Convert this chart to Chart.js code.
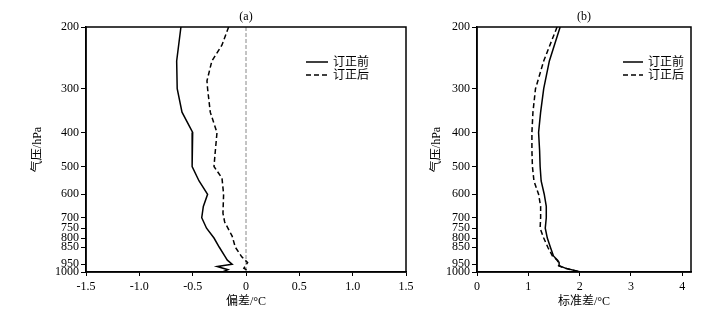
<!DOCTYPE html>
<html>
<head>
<meta charset="utf-8">
<script src="https://cdn.jsdelivr.net/npm/chart.js@4/dist/chart.umd.min.js"></script>
<style>
  body { margin: 0; background: #fff; width: 719px; height: 312px; overflow: hidden; position: relative; }
  .panel { position: absolute; top: 0; height: 312px; }
</style>
</head>
<body>
<div class="panel" style="left:0;width:420px"><canvas id="biasChart" width="420" height="312"></canvas></div>
<div class="panel" style="left:420px;width:299px"><canvas id="stdChart" width="299" height="312"></canvas></div>
<script>
// pressure axis ticks (hPa) and x ticks
const pressureTicks = [200, 300, 400, 500, 600, 700, 750, 800, 850, 950, 1000];
const biasTicks = [-1.5, -1, -0.5, 0, 0.5, 1, 1.5];
const stdTicks = [0, 1, 2, 3, 4];

// (a) bias, before correction
const biasBeforeP = [200, 250, 300, 350, 400, 500, 550, 600, 650, 700, 750, 800, 850, 900, 925, 950, 965, 985, 1000];
const biasBefore  = [-0.61, -0.65, -0.645, -0.60, -0.50, -0.505, -0.44, -0.36, -0.40, -0.415, -0.37, -0.30, -0.25, -0.20, -0.175, -0.13, -0.27, -0.17, -0.22];
// (a) bias, after correction
const biasAfterP = [200, 225, 250, 285, 300, 350, 400, 460, 500, 540, 600, 680, 720, 790, 850, 905, 940, 975, 1000];
const biasAfter  = [-0.163, -0.225, -0.32, -0.366, -0.36, -0.335, -0.272, -0.29, -0.30, -0.225, -0.21, -0.216, -0.20, -0.13, -0.10, -0.04, 0.015, -0.02, 0.04];
// zero reference line
const zeroLineP = [200, 1000];
const zeroLine  = [0, 0];

// (b) standard deviation
const stdP = [200, 250, 300, 350, 400, 450, 500, 550, 600, 650, 700, 750, 800, 850, 900, 925, 940, 960, 975, 1000];
const stdBefore = [1.62, 1.41, 1.30, 1.24, 1.20, 1.22, 1.23, 1.25, 1.31, 1.35, 1.35, 1.33, 1.37, 1.43, 1.49, 1.57, 1.60, 1.60, 1.72, 2.02];
const stdAfter  = [1.56, 1.30, 1.14, 1.09, 1.07, 1.07, 1.08, 1.11, 1.20, 1.24, 1.24, 1.23, 1.30, 1.38, 1.47, 1.56, 1.59, 1.59, 1.71, 2.00];

const serif = '"Liberation Serif", "Noto Sans CJK SC", serif';
const pts = (xs, ps) => xs.map((x, i) => ({ x, y: ps[i] }));

// frame, panel label, axis titles and legend
const decor = {
  id: 'decor',
  afterDraw(chart, args, o) {
    const { ctx, chartArea: a } = chart;
    ctx.save();
    ctx.strokeStyle = '#000';
    ctx.lineWidth = 1.5;
    ctx.strokeRect(a.left, a.top, a.right - a.left, a.bottom - a.top);
    ctx.fillStyle = '#000';
    ctx.font = '12px ' + serif;
    ctx.textAlign = 'center';
    ctx.textBaseline = 'middle';
    const cx = (a.left + a.right) / 2;
    ctx.fillText(o.panel, cx, 17);
    ctx.fillText(o.xTitle, cx, 302);
    ctx.save();
    ctx.translate(o.yTitleX, (a.top + a.bottom) / 2);
    ctx.rotate(-Math.PI / 2);
    ctx.fillText('气压/hPa', 0, 0);
    ctx.restore();

    // legend
    ctx.textAlign = 'left';
    chart.data.datasets.filter(d => d.label).forEach((d, i) => {
      const y = o.legendY + i * 13;
      ctx.beginPath();
      ctx.setLineDash(d.borderDash || []);
      ctx.lineWidth = 1.5;
      ctx.moveTo(o.legendX, y);
      ctx.lineTo(o.legendX + o.legendLen, y);
      ctx.stroke();
      ctx.setLineDash([]);
      ctx.fillText(d.label, o.legendX + o.legendLen + 5, y + 1);
    });
    ctx.restore();
  }
};

function makeChart(id, datasets, opt) {
  return new Chart(document.getElementById(id), {
    type: 'scatter',
    data: { datasets },
    options: {
      responsive: false,
      animation: false,
      layout: { padding: { left: 0, right: opt.padRight, top: 27, bottom: 20 } },
      elements: { point: { radius: 0 } },
      plugins: {
        legend: { display: false },
        tooltip: { enabled: false },
        decor: opt.decor
      },
      scales: {
        x: {
          type: 'linear',
          min: opt.xMin,
          max: opt.xMax,
          afterBuildTicks: s => { s.ticks = opt.xTicks.map(v => ({ value: v })); },
          afterFit: s => { s.height = 20; },
          ticks: {
            autoSkip: false, maxRotation: 0, padding: 4, color: '#000',
            font: { family: serif, size: 12 },
            callback: opt.xFormat
          },
          grid: { drawOnChartArea: false, tickLength: 4, color: '#000', lineWidth: 1 },
          border: { color: '#000', width: 1.5 }
        },
        y: {
          type: 'logarithmic',
          reverse: true,
          min: 200,
          max: 1000,
          afterBuildTicks: s => { s.ticks = pressureTicks.map(v => ({ value: v })); },
          afterFit: s => { s.width = opt.yWidth; },
          ticks: {
            autoSkip: false, padding: 2, color: '#000',
            font: { family: serif, size: 12 },
            callback: v => String(v)
          },
          grid: { drawOnChartArea: false, tickLength: 5, color: '#000', lineWidth: 1 },
          border: { color: '#000', width: 1.5 }
        }
      }
    },
    plugins: [decor]
  });
}

const solid = { showLine: true, borderColor: '#000', borderWidth: 1.5, fill: false };
const dashed = { ...solid, borderDash: [5, 3] };

makeChart('biasChart', [
  { ...solid, label: '订正前', data: pts(biasBefore, biasBeforeP) },
  { ...dashed, label: '订正后', data: pts(biasAfter, biasAfterP) },
  { showLine: true, borderColor: '#888', borderWidth: 1, borderDash: [4, 2], data: pts(zeroLine, zeroLineP) }
], {
  padRight: 14, yWidth: 86, xMin: -1.5, xMax: 1.5, xTicks: biasTicks,
  xFormat: v => v === 0 ? '0' : v.toFixed(1),
  decor: { panel: '(a)', xTitle: '偏差/°C', yTitleX: 38, legendX: 306, legendY: 62, legendLen: 22 }
});

makeChart('stdChart', [
  { ...solid, label: '订正前', data: pts(stdBefore, stdP) },
  { ...dashed, label: '订正后', data: pts(stdAfter, stdP) }
], {
  padRight: 28, yWidth: 57, xMin: 0, xMax: 4.17, xTicks: stdTicks,
  xFormat: v => String(v),
  decor: { panel: '(b)', xTitle: '标准差/°C', yTitleX: 17, legendX: 203, legendY: 62, legendLen: 20 }
});
</script>
</body>
</html>
